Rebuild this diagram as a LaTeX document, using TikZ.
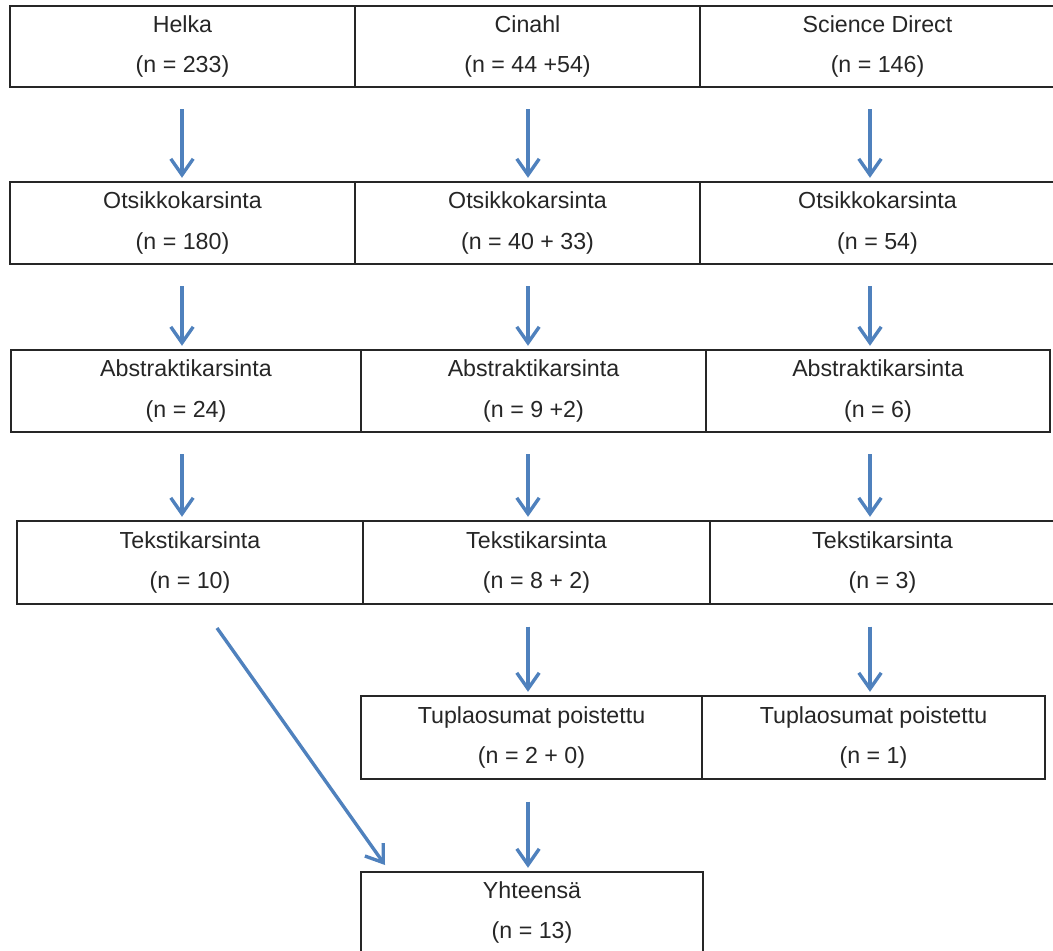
\documentclass[tikz,border=0pt]{standalone}
\usepackage{fontspec}
\setmainfont{Liberation Sans}
\usetikzlibrary{arrows.meta,calc,positioning}
\definecolor{flowblue}{RGB}{79,129,189}

\begin{document}
\begin{tikzpicture}[x=.025cm,y=-.025cm,
  cell/.style={draw=black!85,line width=1.2pt,inner sep=0pt,outer sep=0pt,
    align=center,text=black!85,font=\fontsize{16.5}{29}\selectfont},
  flow/.style={draw=flowblue,line width=2.4pt,
    -{Straight Barb[length=4mm,width=5.6mm,line width=2.4pt]}}]
\clip (0,0) rectangle (1053,951);
\fill[white] (0,0) rectangle (1053,951);
% boxes: name/left/top/right/bottom/text
\foreach \nm/\xa/\ya/\xb/\yb/\txt in {
  h1/10/8/355/89/{Helka\\(n = 233)},
  c1/355/8/700/89/{Cinahl\\(n = 44 +54)},
  s1/700/8/1055/89/{Science Direct\\(n = 146)},
  h2/10/184/355/266/{Otsikkokarsinta\\(n = 180)},
  c2/355/184/700/266/{Otsikkokarsinta\\(n = 40 + 33)},
  s2/700/184/1055/266/{Otsikkokarsinta\\(n = 54)},
  h3/11/352/361/434/{Abstraktikarsinta\\(n = 24)},
  c3/361/352/706/434/{Abstraktikarsinta\\(n = 9 +2)},
  s3/706/352/1050/434/{Abstraktikarsinta\\(n = 6)},
  h4/17/523/363/606/{Tekstikarsinta\\(n = 10)},
  c4/363/523/710/606/{Tekstikarsinta\\(n = 8 + 2)},
  s4/710/523/1055/606/{Tekstikarsinta\\(n = 3)},
  c5/361/698/702/781/{Tuplaosumat poistettu\\(n = 2 + 0)},
  s5/702/698/1045/781/{Tuplaosumat poistettu\\(n = 1)},
  yht/361/874/703/955/{Yhteensä\\(n = 13)}}{
  \node[cell,minimum width={(\xb-\xa)*.025cm},minimum height={(\yb-\ya)*.025cm}]
    (\nm) at ({(\xa+\xb)/2},{(\ya+\yb)/2-2}) {\txt};
}
% arrow columns
\coordinate (ah) at (182,0);
\coordinate (ac) at (528,0);
\coordinate (as) at (870,0);
\foreach \a/\b/\col in {h1/h2/ah,c1/c2/ac,s1/s2/as,h2/h3/ah,c2/c3/ac,s2/s3/as,
  h3/h4/ah,c3/c4/ac,s3/s4/as,c4/c5/ac,s4/s5/as,c5/yht/ac}{
  \draw[flow] ([yshift=-16pt]\col |- \a.south) -- ([yshift=3pt]\col |- \b.north);
}
\draw[flow] ([shift={(27,24)}]h4.south) -- ([shift={(24,-7)}]yht.north west);
\end{tikzpicture}
\end{document}
